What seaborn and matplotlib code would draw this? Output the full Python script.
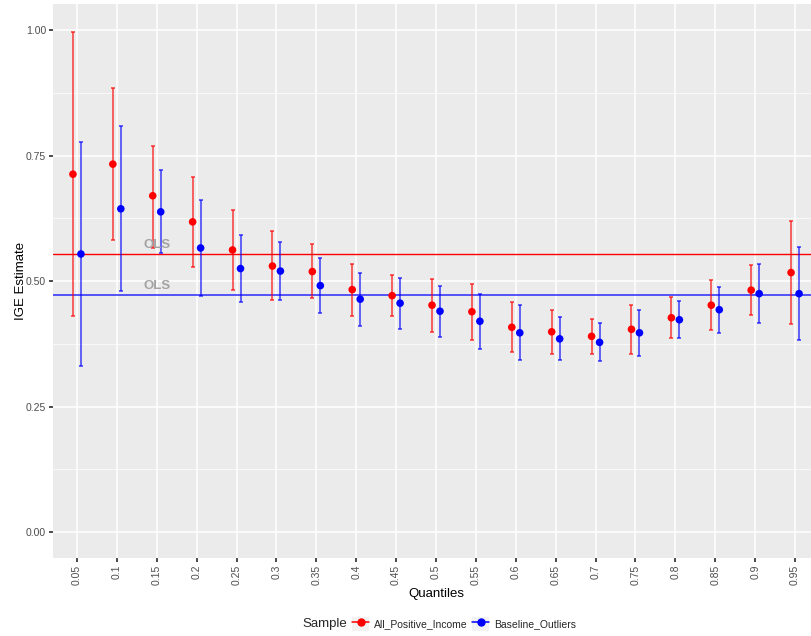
import numpy as np
import pandas as pd
import matplotlib
matplotlib.use("Agg")
import matplotlib.pyplot as plt
import seaborn as sns
from matplotlib.lines import Line2D
from matplotlib.patches import Patch

# Quantile regression estimates of the intergenerational elasticity
quantiles = ["0.05", "0.1", "0.15", "0.2", "0.25", "0.3", "0.35", "0.4", "0.45", "0.5",
             "0.55", "0.6", "0.65", "0.7", "0.75", "0.8", "0.85", "0.9", "0.95"]

all_pos_est = [0.713, 0.733, 0.670, 0.618, 0.562, 0.530, 0.519, 0.483, 0.471, 0.452,
               0.439, 0.408, 0.399, 0.390, 0.404, 0.427, 0.452, 0.482, 0.517]
all_pos_lo = [0.431, 0.582, 0.565, 0.528, 0.482, 0.463, 0.466, 0.431, 0.430, 0.398,
              0.382, 0.358, 0.355, 0.355, 0.355, 0.386, 0.402, 0.432, 0.415]
all_pos_hi = [0.996, 0.885, 0.770, 0.707, 0.641, 0.599, 0.573, 0.535, 0.513, 0.505,
              0.494, 0.459, 0.443, 0.424, 0.453, 0.469, 0.502, 0.533, 0.620]

base_est = [0.554, 0.644, 0.638, 0.566, 0.525, 0.520, 0.491, 0.464, 0.456, 0.440,
            0.420, 0.397, 0.385, 0.378, 0.397, 0.423, 0.443, 0.475, 0.475]
base_lo = [0.331, 0.481, 0.556, 0.471, 0.459, 0.462, 0.436, 0.410, 0.404, 0.389,
           0.365, 0.343, 0.342, 0.341, 0.351, 0.386, 0.396, 0.417, 0.382]
base_hi = [0.777, 0.809, 0.722, 0.662, 0.591, 0.578, 0.546, 0.517, 0.507, 0.491,
           0.475, 0.452, 0.429, 0.417, 0.443, 0.460, 0.489, 0.535, 0.568]

ols_all_pos = 0.554
ols_base = 0.472

samples = ["All_Positive_Income", "Baseline_Outliers"]
colors = {"All_Positive_Income": "#FF0000", "Baseline_Outliers": "#0000FF"}

n = len(quantiles)
df = pd.DataFrame({
    "Quantiles": quantiles * 2,
    "pos": list(range(n)) * 2,
    "est": all_pos_est + base_est,
    "lo": all_pos_lo + base_lo,
    "hi": all_pos_hi + base_hi,
    "Sample": [samples[0]] * n + [samples[1]] * n,
})
dodge = {samples[0]: -0.1, samples[1]: 0.1}
df["x"] = df["pos"] + df["Sample"].map(dodge)

sns.set_theme(style="darkgrid", rc={
    "axes.facecolor": "#EBEBEB",
    "grid.color": "white",
    "axes.edgecolor": "none",
})
plt.rcParams["font.family"] = ["Liberation Sans", "DejaVu Sans"]

fig = plt.figure(figsize=(8.12, 6.36), dpi=100)
ax = fig.add_axes([53 / 812, 78.3 / 636, 766 / 812, 553.7 / 636])

# error bars
for s in samples:
    d = df[df["Sample"] == s]
    ax.errorbar(d["x"], d["est"], yerr=[d["est"] - d["lo"], d["hi"] - d["est"]],
                fmt="none", ecolor=colors[s], elinewidth=1.1, capsize=1.6,
                capthick=1.1, alpha=0.75, zorder=3)

sns.scatterplot(data=df, x="x", y="est", hue="Sample", palette=colors, s=30,
                linewidth=0, legend=False, ax=ax, zorder=4)

# OLS reference lines
ax.axhline(ols_all_pos, color="#FF0000", lw=1.0, zorder=2)
ax.axhline(ols_base, color="#0000FF", lw=1.4, alpha=0.65, zorder=2)
ax.text(2, ols_all_pos + 0.018, "OLS", color="#A3A3A3", fontsize=9.5,
        fontweight="bold", ha="center", va="center", zorder=5)
ax.text(2, ols_base + 0.018, "OLS", color="#A3A3A3", fontsize=9.5,
        fontweight="bold", ha="center", va="center", zorder=5)

ax.set_xlim(-0.6, n - 1 + 0.6)
ax.set_ylim(-0.051, 1.052)
ax.set_xticks(range(n))
ax.set_xticklabels(quantiles, rotation=90)
ax.set_yticks([0.0, 0.25, 0.5, 0.75, 1.0])
ax.set_yticklabels(["0.00", "0.25", "0.50", "0.75", "1.00"])
ax.set_yticks([0.125, 0.375, 0.625, 0.875], minor=True)
ax.grid(True, which="major", color="white", lw=1.1)
ax.grid(True, which="minor", axis="y", color="white", lw=0.5)
ax.tick_params(axis="both", which="major", labelsize=7.5, labelcolor="#4D4D4D",
               length=3, color="#333333", pad=2, bottom=True, left=True)
ax.tick_params(axis="both", which="minor", length=0)
ax.set_xlabel("Quantiles", fontsize=9.5, color="black", labelpad=2)
ax.set_ylabel("IGE Estimate", fontsize=9.5, color="black", labelpad=-1)
for sp in ax.spines.values():
    sp.set_visible(False)

# legend at the bottom, title to the left of the keys
handles = []
for s in samples:
    bg = Patch(facecolor="#F2F2F2", edgecolor="none")
    ln = Line2D([], [], color=colors[s], lw=1.1, marker="o", markersize=5)
    handles.append((bg, ln))
fig.text(0.373, 0.019, "Sample", fontsize=9.5, va="center", ha="left")
fig.legend(handles, samples, loc="center left", bbox_to_anchor=(352 / 812, 0.019),
           ncol=2, frameon=False, fontsize=7.5, handlelength=1.65, handleheight=1.65,
           handletextpad=0.45, columnspacing=0.45, borderpad=0, borderaxespad=0)

fig.savefig("out.png", dpi=100)
